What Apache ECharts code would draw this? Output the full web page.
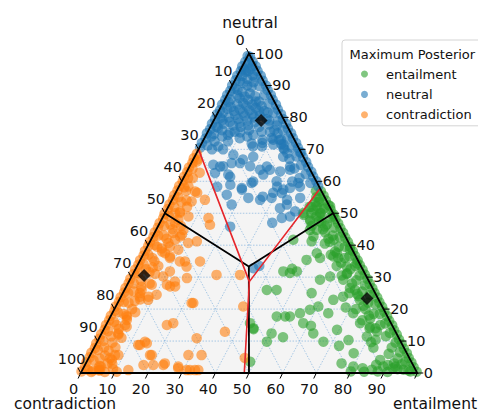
<!DOCTYPE html>
<html>
<head>
<meta charset="utf-8">
<script src="https://cdn.jsdelivr.net/npm/echarts@6/dist/echarts.min.js"></script>
<style>
  html, body { margin: 0; padding: 0; background: #fff; }
  #chart { width: 478px; height: 412px; }
</style>
</head>
<body>
<div id="chart"></div>
<script>
// every point is [entailment, neutral] in percent, contradiction = 100 - both
const ticks = [0, 10, 20, 30, 40, 50, 60, 70, 80, 90, 100];
const gridLevels = [10, 20, 30, 40, 50, 60, 70, 80, 90];
const classNames = ['entailment', 'neutral', 'contradiction'];
const classColors = ['#2ca02c', '#1f77b4', '#ff7f0e'];
const legendTitle = 'Maximum Posterior';

const entailment = [
  // along the right edge
  [99.6,0.4],[98,1.8],[96.6,3.3],[95.1,4.7],[93.8,6.2],[92.2,7.6],[90.8,9.1],[89.3,10.5],[87.9,12],[86.4,13.4],
  [85.1,14.9],[83.5,16.3],[82.1,17.8],[80.6,19.2],[79.2,20.7],[77.7,22.1],[76.3,23.6],[74.8,25],[73.4,26.5],[71.9,27.9],
  [70.5,29.4],[69,30.8],[67.6,32.3],[66.1,33.7],[64.7,35.2],[63.2,36.6],[61.8,38.1],[60.3,39.5],[58.9,41],[57.4,42.4],
  [56,43.9],[54.5,45.3],[53.1,46.8],[51.6,48.2],[50.2,49.7],[48.7,51.1],[47.3,52.6],[45.8,54],[44.4,55.5],[42.9,56.9],
  [97.7,0.5],[94.7,3.5],[91.6,6.5],[88.8,9.5],[85.6,12.5],[82.7,15.5],[79.6,18.5],[76.8,21.5],[73.6,24.5],[70.7,27.5],
  [67.6,30.5],[64.8,33.5],[61.6,36.5],[58.7,39.5],[55.7,42.5],[52.6,45.5],[49.8,48.5],[46.6,51.5],[43.7,54.5],[41.4,57],
  [95.4,1],[91.9,4.5],[88.4,8],[84.9,11.5],[81.5,15],[77.8,18.5],[74.4,22],[70.9,25.5],[67.4,29],[63.9,32.5],
  [60.4,36],[56.9,39.5],[53.4,43],[49.9,46.5],[46.4,50],[43,53.5],
  [92.5,2],[88.5,6],[81.5,13],[77.5,17],[73.5,21],[68.5,26],[63.5,31],[58.5,36],[53.5,41],[49.5,45],[45.5,49],[42.5,52],
  [91.6,3],[80.6,14],[76.6,18],[74.6,20],[70.6,24],[66.6,28],[63.6,31.2],[60.1,34.5],[56.6,38],[52.6,42],[50.6,44],[47.1,47.5],[43.6,51],
  [82.4,10.4],[78.8,14],[75.4,16.5],[71.8,20],[67.3,25],[62.3,30.5],[59.3,33.5],[55.8,37],[52.3,40.5],
  // bottom right corner
  [88,0.5],[91,0.3],[93.5,1.2],[90,2.5],[86,1],[84,0.4],[80,0.5],[83,1.5],[86.5,2.6],[92,1.5],[97,0.8],[94,2.7],
  // wider part of the band under the red line
  [42.5,55],[44,53.5],[42,52],[45.5,51.5],[43.5,50],[46.5,49],[41.5,49.5],[44.5,47.5],[48,47],
  [44.1,48],[46.1,50.1],[49.7,45.9],[50.6,49],[48,52.2],[44,52.2],[41.1,50.1],[47.8,42.7],[45.6,46],[45.7,44.8],
  // scattered inside
  [44.3,31.8],[48.3,31.8],[46.5,32.6],[42.3,26],[45.2,26],[51.9,17.7],[53.3,17.7],[49.4,17.7],[44.3,14],[50.5,12.4],
  [50.4,9.8],[58.3,15.6],[58.2,19.8],[60.2,20.8],[56.1,25],[55.8,18.7],[62.9,12.4],[67.2,9.8],[76,3],[80,2],
  [74.4,10.3],[69.4,13.5],[64.2,18.7],[63.6,22.9],[66,23.9],[56.5,29.2],[59,30.2],[63.4,29.2],[66.7,26.6],[71.5,22.9],
  [71.6,18.7],[75.2,15.6],[78.7,14.5],[79.3,11.4],[83,7.9],[86.9,4.1],[88.9,2],[49.4,35.4],[51.4,37.5],[48,41.2],
  [53.1,36],[54.3,41.7],[57.4,37.5],[60.7,38.6],[64.8,34.4],[62.4,33.3],[42.5,15.6],[44.5,13.7],[48.6,3.5],[56.8,36.5],
  [46.5,31.3],[42.3,41.7],[47.7,44.8],[68.5,20.5],[61,14.8],[54.5,11.2],[72.5,8.5],[78,6.2],[81.5,9.6],[69.8,24.7]
];

const neutral = [
  // along the left edge
  [0.2,70.5],[0,72],[0.4,73.4],[0,75],[0.3,76.3],[0,78],[0.2,79.4],[0,81],[0.3,82.2],[0,84],
  [0.2,85.5],[0,87],[0.3,88.3],[0,90],[0.2,91.6],[0,93],[0.3,94.5],[0,96],[0.2,97.4],[0,99.2],
  [2.1,71.2],[1.8,74],[2.4,76.8],[1.6,79.8],[2.2,82.7],[1.7,85.6],[2.3,88.6],[1.6,91.4],[2,94.2],[1.2,97],
  // along the right edge
  [41.3,58.5],[40,60],[38.3,61.5],[37,63],[35.3,64.5],[34,66],[32.3,67.5],[31,69],[29.3,70.5],[28,72],
  [26.3,73.5],[25,75],[23.3,76.5],[22,78],[20.3,79.5],[19,81],[17.3,82.5],[16,84],[14.3,85.5],[13,87],
  [11.3,88.5],[10,90],[8.3,91.5],[7,93],[5.3,94.5],[4,96],[2.3,97.5],[0.8,99],
  [38.5,59.5],[35.7,62.3],[32.9,65.1],[30.2,67.8],[27.4,70.6],[24.7,73.3],[22,76],[19.2,78.8],[16.5,81.5],[13.7,84.3],
  [11,87],[8.2,89.8],[5.4,92.6],[2.8,95.2],
  [34.5,61],[31.5,64],[28.5,67],[25.5,70],[22.5,73],[19.5,76],[16.5,79],[13.5,82],[10.5,85],
  // near the top corner
  [2.5,94.5],[3.5,92],[4.5,90],[6,89.5],[4,88],[6.5,87.5],[4.2,86],[7,85.5],[9.5,85],[4.5,84],
  [7.5,83.5],[10.5,83],[4.5,82],[7.5,81.5],[10.5,81],[13,80.5],[4,80],[7,79.5],[10,79],[15.5,79.5],
  [3.5,78],[6.5,77.5],[9,77],[17,77.8],[19.5,77.5],[4,76],[8,75.5],[12,76],[18.5,75.5],[21,75],
  [5,74],[10.5,73.5],[14,74.5],[20,73.5],[23,73],[3.5,72.5],[7.5,72.5],[17.5,73],[24.5,71.5],
  [1,95],[3,96],[1.5,93],[4.5,93.2],[2.8,90.8],[5.8,91],[1.2,89],[3,87],[5.5,86.5],[8.5,86.6],
  [1.5,84.8],[3,83.2],[6,84.5],[9,84],[12,83.5],[1.5,81.5],[6,82.5],[9,82.2],[12,82],[14.8,81.5],
  [2.5,79.2],[5.5,80.8],[8.5,80.5],[11.5,80],[12.5,78.5],[1.8,77],[5,78.6],[8,78.3],[11,77.5],[14.5,77],
  [2.2,74.8],[6.5,74.5],[16,75.5],[12.5,74],[18,72],[27,68.8],[23.8,71.6],
  // scattered lower down
  [4,70],[7.3,70],[11.2,68.3],[14.9,71.8],[18.4,70.9],[21.5,71.5],[25,70.4],[6.8,65.2],[10,64.7],[12,65.7],
  [14.5,65.7],[18,64.7],[21.5,63.6],[24.4,63.6],[27.7,63.1],[30.4,63.6],[8.6,62.6],[12.8,62.1],[18.9,57.9],[21,59.5],
  [23.2,62.1],[28.2,60],[31.5,57.4],[15,58.9],[15.5,55.8],[22.4,54.8],[26.2,54.2],[29.3,54.8],[31.6,56.3],[33.2,57.9],
  [34.9,59.5],[18.5,52.7],[33.4,51.6],[35.5,48.5],[37.7,49],[38.4,50.6],[34.9,52.7],[37.8,54.8],[21.5,45.8],[33.4,47],
  [34.9,32.8],[36.3,33.5],
  [6.7,75.3],[9.7,75.3],[5.4,70.9],[15.7,70.9],[20.7,73],[14.8,66.8],[17.4,67.7],[23,64.6],[26.3,67.7],[29.9,64.6],
  [30.7,69],[9.1,64.6],[13.7,61.4],[21.3,59.9],[29.2,58.3],[32.9,59.9],[11.4,58.3],[19.2,57.4],[26.5,55.2],[29,56.4],
  [34.2,54.2],[36,58.3]
];

const contradiction = [
  // along the left edge
  [0,0.5],[0.3,2],[0,3.4],[0.2,4.9],[0,6.3],[0.3,7.8],[0,9.2],[0.2,10.7],[0,12.1],[0.3,13.6],
  [0,15],[0.2,16.5],[0,17.9],[0.3,19.4],[0,20.8],[0.2,22.3],[0,23.7],[0.3,25.2],[0,26.6],[0.2,28.1],
  [0,29.5],[0.3,31],[0,32.4],[0.2,33.9],[0,35.3],[0.3,36.8],[0,38.2],[0.2,39.7],[0,41.1],[0.3,42.6],
  [0,44],[0.2,45.5],[0,46.9],[0.3,48.4],[0,49.8],[0.2,51.3],[0,52.7],[0.3,54.2],[0,55.6],[0.2,57.1],
  [0,58.5],[0.3,60],[0,61.4],[0.2,62.9],[0,64.3],[0.3,65.8],[0,67.2],[0.2,68.6],
  [1.6,1],[1.8,4],[1.5,7.2],[1.7,10],[1.6,13.1],[1.9,16],[1.5,19],[1.7,22.2],[1.6,25],[1.8,28],
  [1.5,31.2],[1.7,34],[1.6,37],[1.9,40.1],[1.5,43],[1.7,46],[1.6,49.2],[1.8,52],[1.5,55],[1.7,58.1],
  [1.4,61],[1.2,64],[1.5,66.2],
  [3.2,0.8],[3.4,4.5],[3,8],[3.3,11.5],[3.1,15],[3.5,18.5],[3.2,22],[3,25.5],[3.4,29],[3.1,32.5],
  [3.3,36],[3,39.5],[3.2,43],[3.4,46.5],[3,50],[3.2,53.5],[2.8,57],[2.8,58.4],[4,62.7],[1.2,66.8],[2.8,61],
  [5,2],[4.8,7],[5.2,12],[5,17.5],[5.3,20],[5.1,26],[4.9,33],[5.2,38],[4.8,45],[5,48],[5.6,52],
  [4.6,1.5],[4.5,5.5],[4.7,9.5],[4.4,13.8],[4.6,18],[4.8,22.5],[4.5,27],[4.7,31.5],[4.4,35],[4.6,39],
  [4.5,42],[4.6,47],[4.3,50.5],[4.4,54],
  [6.5,3],[6.3,8],[6.6,11],[6.4,14.5],[6.7,19],[6.2,23],[6.5,28],[6.3,33.5],[6.8,46],[6.6,31],
  // bottom left corner
  [3,0.3],[5,0.8],[7,0.3],[4.5,2.2],[9,1.2],[13.7,0.9],[8,2.8],[10.5,0.4],
  // scattered inside
  [4.4,50.1],[13.7,48.5],[15.2,46.4],[13.9,41.2],[11.6,40.7],[8.4,43.3],[5.6,43.8],[5.7,40.7],[6.3,37.5],[8.5,36],
  [12,34.9],[13.5,34.9],[18,34.9],[9.4,30.2],[13.7,28.6],[13,27.1],[8.6,22.9],[5.6,23.9],[10.3,24.5],[22,21.9],
  [37.9,20.8],[25,30.7],[32,30.7],[18.1,15],[19.7,15.6],[5.7,15],[5,12.4],[12.7,8.8],[15,9.3],[29,10.9],
  [33.1,5.6],[29.2,5.6],[36.4,12.9],[18.3,5.6],[23.3,2.5],[20.3,2.5],[28.2,1.5],[32,0.9],[34.5,0.9],[46.4,4.7],
  [7.4,5.6],[7.2,4.1],[5.3,0.9],[17.4,2.5],[8.2,42.7],[6.7,39.6],[14.8,33.3],[6.4,56.4],[9.8,54.2],[5.6,56.8],
  [6.1,53.7],[7.5,49],[8.1,44.8],[7.2,41.7],[9.7,38.6],[8.3,36.5],[10.6,31.8],[7.3,27.6],[11.8,27.6],[14.5,27.1],
  [16.7,29.7],[22.5,21.9],[5.1,25],[8.2,23.9],[5.4,16.6],[13.2,8.8],[14.2,9.8],[8.4,5.6],[6.4,4.6],[17.8,5.6],
  [23.5,3],[28,2],[31,0.9],[33.5,0.9]
];

// black diamonds, one per class
const classMeans = [[73.4, 23.3], [14.1, 79], [3.6, 30.5]];

// decision boundaries: equal thirds (black) and the fitted one (red)
const equalSplitA = [[0, 50], [33.3, 33.3], [50, 50]];
const equalSplitB = [[33.3, 33.3], [50, 0]];
const fittedSplitA = [[0, 70], [35.8, 28.6], [42.2, 57.7]];
const fittedSplitB = [[35.8, 28.6], [48.6, 0]];

const FONT = '"DejaVu Sans", sans-serif';
const INK = '#111';
const toXY = ([e, n]) => [e + n / 2, n];

function frame(params, api) {
  const p = (e, n) => api.coord([e + n / 2, n]);
  const dotted = { stroke: '#86b4de', lineWidth: 0.7, lineDash: [1.5, 1.5] };
  const seg = (a, b) => ({ type: 'line', shape: { x1: a[0], y1: a[1], x2: b[0], y2: b[1] }, style: dotted });
  const children = [{
    type: 'polygon',
    shape: { points: [p(0, 0), p(100, 0), p(0, 100)] },
    style: { fill: '#f4f4f4' }
  }];
  gridLevels.forEach(k => {
    children.push(seg(p(0, k), p(100 - k, k)));
    children.push(seg(p(k, 0), p(k, 100 - k)));
    children.push(seg(p(100 - k, 0), p(0, 100 - k)));
  });
  return { type: 'group', children };
}

function outline(params, api) {
  const p = (e, n) => api.coord([e + n / 2, n]);
  return {
    type: 'polygon',
    shape: { points: [p(0, 0), p(100, 0), p(0, 100)] },
    style: { fill: 'none', stroke: '#000', lineWidth: 1.8 }
  };
}

const tickLine = (x, y, dx, dy) => ({
  type: 'line', shape: { x1: x, y1: y, x2: x + dx, y2: y + dy }, style: { stroke: '#000', lineWidth: 1 }
});
const tickText = (x, y, text, align) => ({
  type: 'text', x, y,
  style: { text, align, verticalAlign: 'middle', font: '14.5px ' + FONT, fill: INK }
});

// left side reads contradiction, 0 at the top
function leftTicks(params, api) {
  const c = api.value(0);
  const [x, y] = api.coord([(100 - c) / 2, 100 - c]);
  return { type: 'group', children: [tickLine(x, y, -2.8, -5.3), tickText(x - 9, y - 14, String(c), 'center')] };
}
// right side reads neutral, 0 at the bottom
function rightTicks(params, api) {
  const n = api.value(0);
  const [x, y] = api.coord([100 - n / 2, n]);
  return { type: 'group', children: [tickLine(x, y, 6, 0), tickText(x + 6.5, y, String(n), 'left')] };
}
function bottomTicks(params, api) {
  const [x, y] = api.coord([api.value(0), 0]);
  return tickLine(x, y, -2.6, 5.5);
}

const tickData = ticks.map(v => [v, 0]);
const pointSeries = [entailment, neutral, contradiction].map((pts, i) => ({
  name: classNames[i],
  type: 'scatter',
  data: pts.map(toXY),
  symbolSize: 10.5,
  itemStyle: { color: classColors[i], opacity: 0.6 },
  clip: false,
  z: 3
}));
const splitLine = (pts, color, width) => ({
  type: 'line', data: pts.map(toXY), showSymbol: false, silent: true,
  lineStyle: { color, width }, z: 5
});

const chart = echarts.init(document.getElementById('chart'), null, { renderer: 'svg' });
chart.setOption({
  animation: false,
  grid: { left: 80.7, right: 60.7, top: 53.5, bottom: 39 },
  xAxis: {
    type: 'value', min: 0, max: 100, interval: 10,
    axisLine: { show: false }, axisTick: { show: false }, splitLine: { show: false },
    axisLabel: { fontSize: 14.5, fontFamily: FONT, color: INK, margin: 8, padding: [0, 14, 0, 0], lineHeight: 15 }
  },
  yAxis: { type: 'value', min: 0, max: 100, show: false },
  legend: {
    data: classNames,
    orient: 'vertical',
    left: 342, top: 40,
    padding: [27, 10, 4, 19],
    itemWidth: 7, itemHeight: 14, itemGap: 6.4,
    icon: 'circle',
    backgroundColor: '#fff',
    borderColor: '#d4d4d4', borderWidth: 1, borderRadius: 3,
    textStyle: { fontSize: 13, fontFamily: FONT, color: INK, lineHeight: 14, padding: [0, 0, 0, 13] }
  },
  graphic: [
    { type: 'text', x: 250, y: 22.7, style: { text: 'neutral', align: 'center', verticalAlign: 'middle', font: '15.5px ' + FONT, fill: INK } },
    { type: 'text', x: 65, y: 404, style: { text: 'contradiction', align: 'center', verticalAlign: 'middle', font: '15.5px ' + FONT, fill: INK } },
    { type: 'text', x: 435, y: 404, style: { text: 'entailment', align: 'center', verticalAlign: 'middle', font: '15.5px ' + FONT, fill: INK } },
    { type: 'text', x: 349.5, y: 54.3, z: 100, style: { text: legendTitle, align: 'left', verticalAlign: 'middle', font: '13px ' + FONT, fill: INK } }
  ],
  series: [
    { type: 'custom', renderItem: frame, data: [[0, 0]], silent: true, z: 1 },
    ...pointSeries,
    splitLine(equalSplitA, '#000', 1.8),
    splitLine(equalSplitB, '#000', 1.8),
    splitLine(fittedSplitA, '#e6262b', 1.6),
    splitLine(fittedSplitB, '#e6262b', 1.6),
    { type: 'custom', renderItem: outline, data: [[0, 0]], silent: true, z: 6 },
    { type: 'custom', renderItem: leftTicks, data: tickData, silent: true, z: 6 },
    { type: 'custom', renderItem: rightTicks, data: tickData, silent: true, z: 6 },
    { type: 'custom', renderItem: bottomTicks, data: tickData, silent: true, z: 6 },
    {
      type: 'scatter', data: classMeans.map(toXY), symbol: 'diamond', symbolSize: 13,
      itemStyle: { color: '#000' }, clip: false, z: 7
    }
  ]
});
</script>
</body>
</html>
